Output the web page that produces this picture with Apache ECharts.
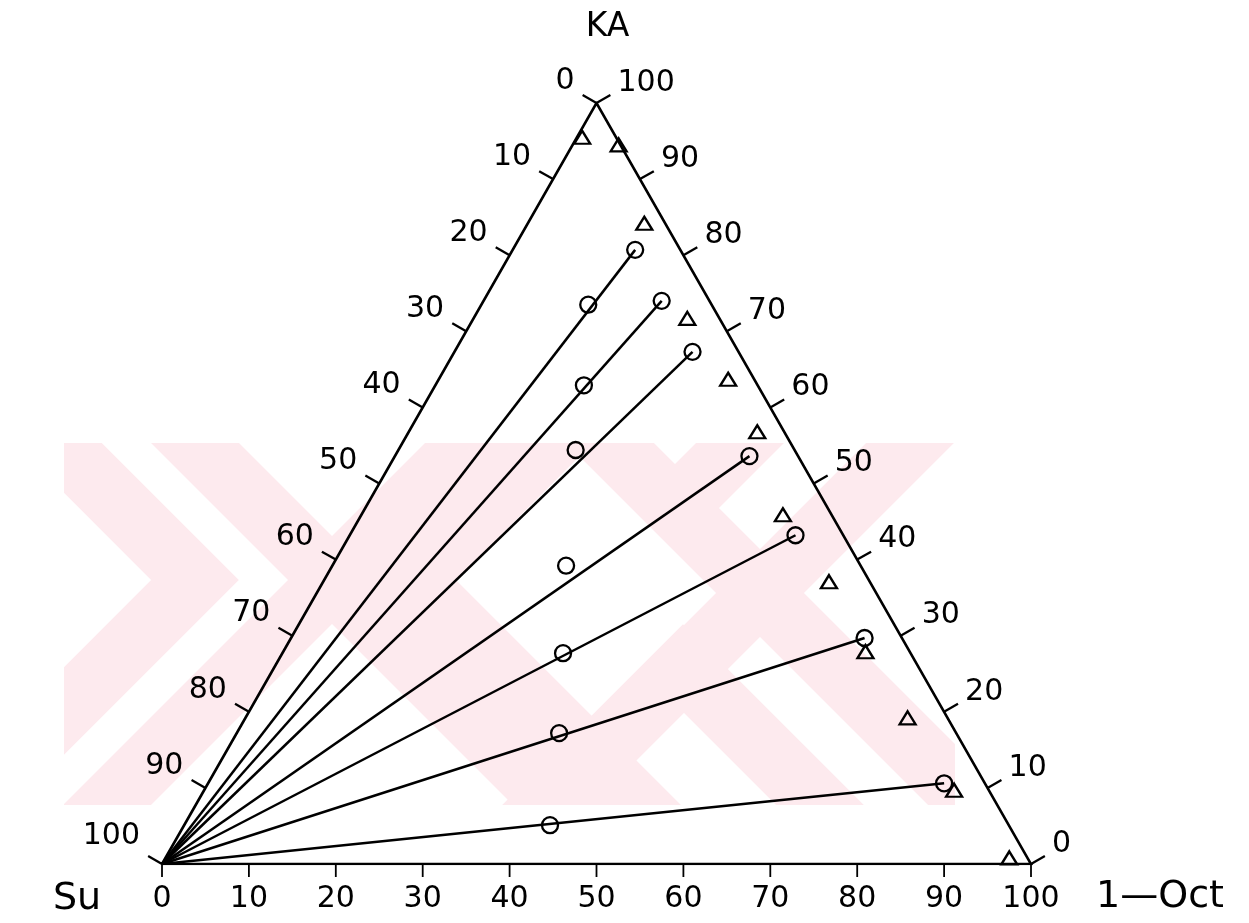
<!DOCTYPE html>
<html>
<head>
<meta charset="utf-8">
<script src="https://cdn.jsdelivr.net/npm/echarts@6/dist/echarts.min.js"></script>
<style>
html,body{margin:0;padding:0;background:#fff;}
#main{width:1249px;height:923px;}
</style>
</head>
<body>
<div id="main"></div>
<script>
// ---- data (ternary percentages; Su = 100 - Oct - KA) ----
const tickValues = [0, 10, 20, 30, 40, 50, 60, 70, 80, 90, 100];
const tickLabels = ['0', '10', '20', '30', '40', '50', '60', '70', '80', '90', '100'];
const vertexNames = ['Su', '1\u2014Oct', 'KA'];

// open triangles
const triKA  = [95.5, 94.5, 84.2, 71.7, 63.7, 56.8, 45.9, 37.1, 27.9, 19.2, 9.7, 0.8];
const triOct = [0.6, 5.3, 13.4, 24.6, 33.3, 40.1, 48.5, 58.2, 67.0, 76.2, 86.3, 97.1];

// open circles at the end of each tie line
const outerKA  = [80.7, 74.0, 67.3, 53.6, 43.2, 29.7, 10.6];
const outerOct = [14.1, 20.5, 27.4, 40.8, 51.3, 66.0, 84.7];

// open circles on the tie lines
const innerKA  = [73.5, 62.9, 54.4, 39.2, 27.7, 17.2, 5.1];
const innerOct = [12.3, 17.1, 20.4, 26.9, 32.3, 37.1, 42.1];

// ---- ternary -> cartesian helper ----
function cart(oct, ka) { return [oct + ka / 2, ka]; }

const vertices = [cart(0, 0), cart(100, 0), cart(0, 100)];

const series = [];

// triangle frame
series.push({
  type: 'line', silent: true, symbol: 'none', z: 3,
  data: [vertices[0], vertices[1], vertices[2], vertices[0]],
  lineStyle: { color: '#000', width: 2.6, join: 'miter' }
});

// tie lines from the Su vertex
for (let i = 0; i < outerKA.length; i++) {
  series.push({
    type: 'line', silent: true, symbol: 'none', z: 3,
    data: [vertices[0], cart(outerOct[i], outerKA[i])],
    lineStyle: { color: '#000', width: 2.5 }
  });
}

const hollow = { color: 'rgba(255,255,255,0)', borderColor: '#000', borderWidth: 2.3, opacity: 1 };

series.push({
  type: 'scatter', symbol: 'circle', symbolSize: 16, z: 4, silent: true,
  data: outerKA.map((k, i) => cart(outerOct[i], k)),
  itemStyle: hollow
});
series.push({
  type: 'scatter', symbol: 'circle', symbolSize: 16, z: 4, silent: true,
  data: innerKA.map((k, i) => cart(innerOct[i], k)),
  itemStyle: hollow
});
series.push({
  type: 'scatter', symbol: 'triangle', symbolSize: [16, 13], z: 4, silent: true,
  data: triKA.map((k, i) => cart(triOct[i], k)),
  itemStyle: hollow
});

// axis ticks, tick labels and vertex names, drawn through the cartesian scales
const axisItems = [];
for (let a = 0; a < 3; a++) {
  tickValues.forEach((v, j) => axisItems.push([a, v, j]));
}
for (let i = 0; i < 3; i++) axisItems.push([3, i, i]);

const FONT = '"DejaVu Sans", sans-serif';

function unit(p, q) {
  const dx = q[0] - p[0], dy = q[1] - p[1];
  const l = Math.hypot(dx, dy);
  return [dx / l, dy / l];
}

series.push({
  type: 'custom', coordinateSystem: 'cartesian2d', z: 5, silent: true,
  data: axisItems,
  renderItem: function (params, api) {
    const kind = api.value(0), v = api.value(1), j = api.value(2);
    const S = api.coord(vertices[0]), O = api.coord(vertices[1]), K = api.coord(vertices[2]);
    if (kind === 3) {
      const P = [S, O, K][v];
      const off = [[-85, 35], [129, 33], [11, -76]][v];
      const size = [38, 38, 33][v];
      return {
        type: 'text',
        style: {
          x: P[0] + off[0], y: P[1] + off[1], text: vertexNames[v],
          font: size + 'px ' + FONT, fill: '#000',
          align: 'center', verticalAlign: 'middle'
        }
      };
    }
    let P, dir, len, lab, align;
    if (kind === 0) {          // bottom: 1-Oct %
      P = api.coord(cart(v, 0));
      dir = [0, 1]; len = 13;
      lab = [P[0], P[1] + 35]; align = 'center';
    } else if (kind === 1) {   // left: Su %
      P = api.coord(cart(0, 100 - v));
      const d = unit(S, K);
      dir = [d[1], -d[0]]; len = 16;
      lab = [P[0] - 22, P[1] - (v === 100 ? 28 : 22)]; align = 'right';
    } else {                   // right: KA %
      P = api.coord(cart(100 - v, v));
      const d = unit(O, K);
      dir = [-d[1], d[0]]; len = 16;
      lab = [P[0] + 21, P[1] - 20]; align = 'left';
    }
    return {
      type: 'group',
      children: [
        {
          type: 'line',
          shape: { x1: P[0], y1: P[1], x2: P[0] + dir[0] * len, y2: P[1] + dir[1] * len },
          style: { stroke: '#000', lineWidth: kind === 0 ? 1.8 : 2.3 }
        },
        {
          type: 'text',
          style: {
            x: lab[0], y: lab[1], text: tickLabels[j],
            font: '30px ' + FONT, fill: '#000',
            align: align, verticalAlign: 'middle'
          }
        }
      ]
    };
  }
});

// faint background watermark (decorative)
const PINK = '#fdeaee';
function chev(a, b, c) {
  return { type: 'polyline', z: 0, silent: true,
    shape: { points: c ? [a, b, c] : [a, b] },
    style: { stroke: PINK, lineWidth: 62, fill: null, lineJoin: 'miter', miterLimit: 10 } };
}
const wm = [
  // left X
  chev([32, 280], [332, 580], [632, 880]),
  chev([632, 280], [332, 580], [32, 880]),
  chev([-105, 280], [195, 580], [-105, 880]),
  chev([712, 280], [412, 580], [712, 880]),
  // right X
  chev([460, 293], [760, 593], [1060, 893]),
  chev([1060, 293], [760, 593], [460, 893]),
  chev([860, 323], [675, 508]),
  chev([383, 968], [683, 668], [983, 968])
];
const cover = (x, y, w, h) => ({ type: 'rect', z: 1, silent: true,
  shape: { x: x, y: y, width: w, height: h }, style: { fill: '#fff' } });
wm.push(cover(0, 0, 1249, 443), cover(0, 805, 1249, 118), cover(0, 0, 64, 923), cover(955, 0, 294, 923));

const chart = echarts.init(document.getElementById('main'), null, { renderer: 'canvas' });
chart.setOption({
  backgroundColor: '#fff',
  animation: false,
  grid: { left: 162, right: 218, top: 103, bottom: 59, show: false },
  xAxis: { type: 'value', min: 0, max: 100, show: false },
  yAxis: { type: 'value', min: 0, max: 100, show: false },
  graphic: wm,
  series: series
});
</script>
</body>
</html>
